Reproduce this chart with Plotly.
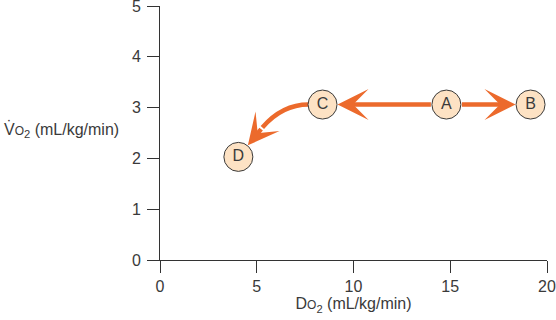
import plotly.graph_objects as go

# Data
labels = ["A", "B", "C", "D"]
do2 = [14.8, 19.15, 8.4, 4.05]      # DO2 (mL/kg/min)
vo2 = [3.06, 3.06, 3.06, 2.03]      # VO2 (mL/kg/min)
x_ticks = [0, 5, 10, 15, 20]
y_ticks = [0, 1, 2, 3, 4, 5]

ORANGE = "#ec6a2c"
FILL = "#fde2c4"
TXT = "#3a3a3a"
FONT = "Liberation Sans, Arial, sans-serif"

fig = go.Figure()

xa, xb, xc, xd = do2
ya, yb, yc, yd = vo2

# curved path C -> D (quadratic bezier derived from C and D)
r_x = 0.72
sx, sy = xc - r_x, yc
kx, ky = xd + 0.52 * (xc - xd), yc
ex, ey = xd + 0.285 * (xc - xd), yd + 0.56 * (yc - yd)
fig.add_shape(type="path", xref="x", yref="y",
              path=f"M {sx},{sy} Q {kx},{ky} {ex},{ey}",
              line=dict(color=ORANGE, width=4.5), layer="below")

arrow_common = dict(xref="x", yref="y", axref="x", ayref="y", text="",
                    showarrow=True, arrowhead=3, arrowsize=1.15, arrowwidth=4.5,
                    arrowcolor=ORANGE)
# A -> B
fig.add_annotation(x=xb, y=yb, ax=xa, ay=ya, standoff=15, startstandoff=14, **arrow_common)
# A -> C
fig.add_annotation(x=xc, y=yc, ax=xa, ay=ya, standoff=15, startstandoff=14, **arrow_common)
# curve end -> D
fig.add_annotation(x=xd, y=yd, ax=ex, ay=ey, standoff=15, startstandoff=0, **arrow_common)

fig.add_trace(go.Scatter(
    x=do2, y=vo2, mode="markers+text", text=labels,
    textposition="middle center",
    textfont=dict(family=FONT, size=16, color=TXT),
    marker=dict(size=29, color=FILL, line=dict(color="#3a3a3a", width=1)),
    hoverinfo="skip", showlegend=False, cliponaxis=False))

# y-axis title (horizontal), with a dot over the V
fig.add_annotation(
    xref="paper", yref="paper", x=-0.1, y=0.51, xanchor="right", yanchor="middle",
    text="V<span style='font-size:12px'>O</span><sub>2</sub> (mL/kg/min)",
    showarrow=False, font=dict(family=FONT, size=16, color=TXT))
fig.add_annotation(
    xref="paper", yref="paper", x=-0.388, y=0.524, xanchor="center", yanchor="middle",
    text="\u02d9", showarrow=False, font=dict(family=FONT, size=16, color=TXT))

fig.update_layout(
    width=556, height=320,
    margin=dict(l=160, r=9, t=6, b=60, autoexpand=False),
    paper_bgcolor="white", plot_bgcolor="white",
    font=dict(family=FONT, size=16, color=TXT),
    xaxis=dict(range=[0, 20], tickvals=x_ticks, showgrid=False, zeroline=False,
               showline=True, linecolor="#333", linewidth=1, automargin=False,
               ticks="outside", ticklen=12, tickcolor="#333", ticklabeloverflow="allow",
               title=dict(text="D<span style='font-size:12px'>O</span><sub>2</sub> (mL/kg/min)",
                          standoff=2, font=dict(size=16))),
    yaxis=dict(range=[0, 5], tickvals=y_ticks, showgrid=False, zeroline=False,
               showline=True, linecolor="#333", linewidth=1, automargin=False,
               ticks="outside", ticklen=12, tickcolor="#333", ticklabeloverflow="allow",
               ticklabelstandoff=3),
)

fig.write_html("out.html")
